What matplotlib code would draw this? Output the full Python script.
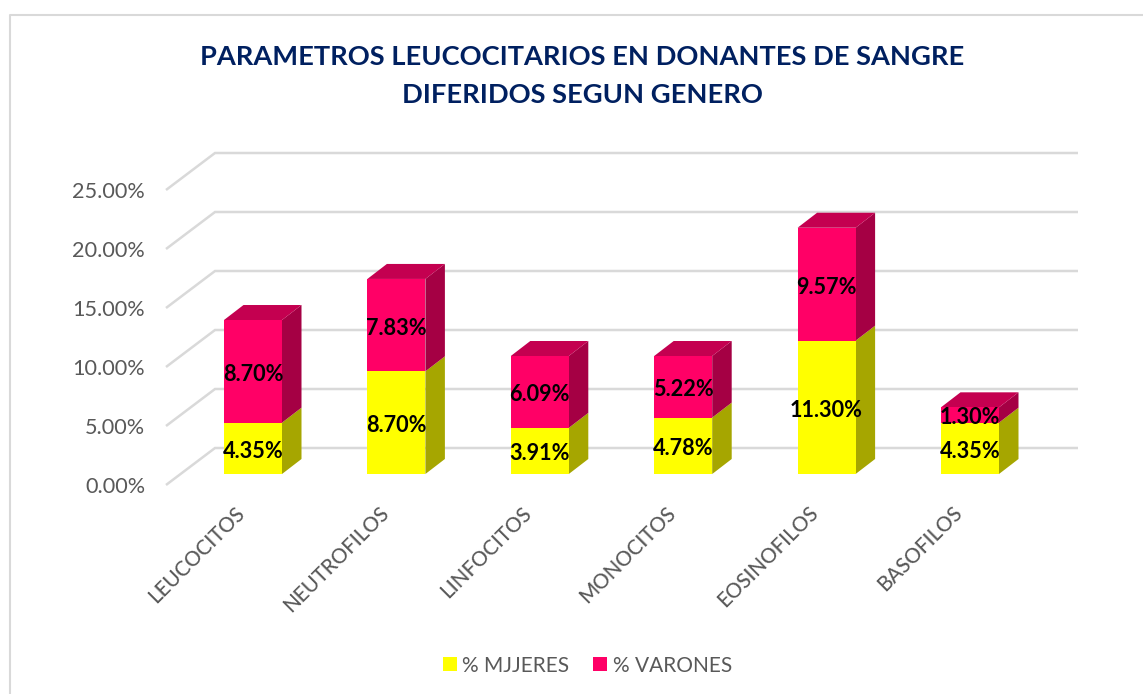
import matplotlib
matplotlib.use("Agg")
import matplotlib.pyplot as plt
from matplotlib.lines import Line2D

plt.rcParams['font.family'] = ['Lato', 'DejaVu Sans']

categorias = ['LEUCOCITOS', 'NEUTROFILOS', 'LINFOCITOS', 'MONOCITOS', 'EOSINOFILOS', 'BASOFILOS']
mujeres = [4.35, 8.70, 3.91, 4.78, 11.30, 4.35]
varones = [8.70, 7.83, 6.09, 5.22, 9.57, 1.30]
ticks = [0, 5, 10, 15, 20, 25]

W, H = 1143, 694
fig = plt.figure(figsize=(W / 100, H / 100), dpi=100)
ax = fig.add_axes([0, 0, 1, 1])

# pixel layout: one category = 143.4 px, one percent = 11.8 px
px_x = 143.4
px_y = 11.8
x0 = 253.0
y0 = 474.0
ax.set_xlim(-x0 / px_x, (W - x0) / px_x)
ax.set_ylim(-(H - y0) / px_y, y0 / px_y)
ax.axis('off')

ancho = 58 / px_x
dx = 19.5 / px_x
dy = 15 / px_y
baja = 3 / px_y  # labels sit a little low in the original


def caras(i, abajo, alto, lateral, tapa=None):
    izq = i - ancho / 2
    der = i + ancho / 2
    ax.fill([der, der + dx, der + dx, der],
            [abajo, abajo + dy, alto + dy, alto],
            color=lateral, lw=0, zorder=3)
    if tapa:
        ax.fill([izq, izq + dx, der + dx, der],
                [alto, alto + dy, alto + dy, alto],
                color=tapa, lw=0, zorder=3)


# back wall and floor lines
muro_x = (215 - x0) / px_x
muro_fin = (1078 - x0) / px_x
muro_y = (474 - 448) / px_y
frente_x = (166 - x0) / px_x
frente_y = (474 - 485) / px_y
for t in ticks:
    ax.plot([frente_x, muro_x, muro_fin],
            [t + frente_y, t + muro_y, t + muro_y],
            color='#d9d9d9', lw=1.8, zorder=1, solid_joinstyle='miter', solid_capstyle='butt')
    ax.text((145 - x0) / px_x, t + (474 - 487) / px_y, '%.2f%%' % t,
            ha='right', va='center', fontsize=15.6, color='#595959')

for i in range(len(categorias)):
    m = mujeres[i]
    v = varones[i]
    caras(i, 0, m, '#a6a600')
    caras(i, m, m + v, '#a50044', '#c40050')
    ax.text(i, m / 2 - baja, '%.2f%%' % m, ha='center', va='center',
            fontsize=15.6, fontweight='bold', color='black', zorder=5)
    ax.text(i, m + v / 2 - baja, '%.2f%%' % v, ha='center', va='center',
            fontsize=15.6, fontweight='bold', color='black', zorder=5)
    ax.text(i - 11 / px_x, (474 - 510) / px_y, categorias[i], rotation=45,
            rotation_mode='anchor', ha='right', va='center',
            fontsize=14.8, fontweight='medium', color='#595959')

pos = list(range(len(categorias)))
b1 = ax.bar(pos, mujeres, width=ancho, color='#ffff00', zorder=4, label='% MJJERES')
b2 = ax.bar(pos, varones, width=ancho, bottom=mujeres, color='#ff0066', zorder=4, label='% VARONES')

ax.legend(handles=[b1, b2], loc='center', bbox_to_anchor=(587.5 / W, 1 - 665.5 / H),
          ncol=2, frameon=False, fontsize=15, labelcolor='#595959',
          handlelength=0.67, handleheight=0.67, handletextpad=0.25, columnspacing=1.15)

fig.text(582 / W, 1 - 76 / H, 'PARAMETROS LEUCOCITARIOS EN DONANTES DE SANGRE\nDIFERIDOS SEGUN GENERO',
         ha='center', va='center', fontsize=19.65, fontweight='bold', color='#002060', linespacing=1.72)

# chart frame
fig.add_artist(Line2D([10 / W, 10 / W, 1], [0, 1 - 15 / H, 1 - 15 / H], color='#d9d9d9', lw=1.5))

fig.savefig('out.png', dpi=100)
